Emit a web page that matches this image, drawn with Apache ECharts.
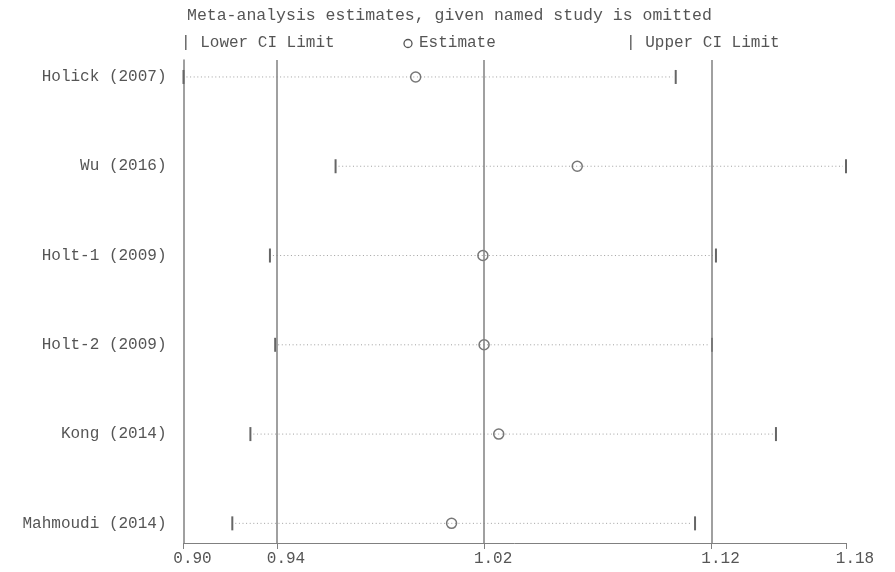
<!DOCTYPE html>
<html><head><meta charset="utf-8">
<script src="https://cdn.jsdelivr.net/npm/echarts@6/dist/echarts.min.js"></script>
<style>html,body{margin:0;padding:0;background:#fff}#c{width:895px;height:572px}</style>
</head><body><div id="c"></div>
<script>
const studies = ['Holick (2007)','Wu (2016)','Holt-1 (2009)','Holt-2 (2009)','Kong (2014)','Mahmoudi (2014)'];
const lowerCI = [0.902, 0.9596, 0.9343, 0.9363, 0.9269, 0.9201];
const estimate = [0.9914, 1.0588, 1.0189, 1.0194, 1.0255, 1.0060];
const upperCI = [1.1021, 1.1812, 1.1203, 1.1185, 1.1480, 1.1108];
const overall = [0.9370, 1.0194, 1.1183]; // lower CI, estimate, upper CI
const tickValues = [0.902, 0.9370, 1.0194, 1.1183, 1.1812];
const tickLabels = ['0.90', '0.94', '1.02', '1.12', '1.18'];
const titleText = 'Meta-analysis estimates, given named study is omitted';
const legendTexts = ['| Lower CI Limit', 'Estimate', '| Upper CI Limit'];

const FONT = '"Liberation Mono", "DejaVu Sans Mono", monospace';
const TXT = '#555';
const LINE = '#808080';
const L = Math.log;
const tickPos = tickValues.map(L);
const rows = studies.map((s, i) => i);
function nearestLabel(v) {
  let best = 0;
  tickPos.forEach((p, i) => { if (Math.abs(p - v) < Math.abs(tickPos[best] - v)) best = i; });
  return tickLabels[best];
}

const chart = echarts.init(document.getElementById('c'), null, {renderer: 'canvas'});
chart.setOption({
  backgroundColor: '#fff',
  animation: false,
  grid: {left: 183.5, right: 49, top: 60, bottom: 29, containLabel: false},
  xAxis: {
    type: 'value', min: L(tickValues[0]), max: L(tickValues[tickValues.length - 1]),
    splitLine: {show: false},
    axisLine: {show: true, onZero: false, lineStyle: {color: LINE, width: 1}},
    axisTick: {show: true, customValues: tickPos, length: 6, lineStyle: {color: LINE, width: 1}},
    axisLabel: {customValues: tickPos, formatter: v => nearestLabel(v), fontFamily: FONT, fontSize: 16,
      color: TXT, margin: 8, padding: [0, 0, 0, 18]}
  },
  yAxis: {
    type: 'value', inverse: true, min: -0.19, max: 5.22,
    splitLine: {show: false},
    axisLine: {show: true, onZero: false, lineStyle: {color: LINE, width: 1.5}},
    axisTick: {show: false},
    axisLabel: {customValues: rows, formatter: v => studies[Math.round(v)], fontFamily: FONT, fontSize: 16,
      color: TXT, margin: 17}
  },
  graphic: [
    {type: 'text', left: 187, top: 7, style: {text: titleText, font: '16.5px ' + FONT, fill: TXT}},
    {type: 'text', left: 181, top: 35, style: {text: legendTexts[0], font: '16px ' + FONT, fill: TXT}},
    {type: 'circle', shape: {cx: 408, cy: 43.5, r: 4}, style: {fill: 'none', stroke: '#555', lineWidth: 1.3}},
    {type: 'text', left: 419, top: 35, style: {text: legendTexts[1], font: '16px ' + FONT, fill: TXT}},
    {type: 'text', left: 626, top: 35, style: {text: legendTexts[2], font: '16px ' + FONT, fill: TXT}}
  ],
  series: [
    {
      type: 'custom',
      silent: true,
      data: studies.map((s, i) => [L(lowerCI[i]), L(upperCI[i]), i]),
      encode: {x: [0, 1], y: 2},
      renderItem: function (params, api) {
        const p1 = api.coord([api.value(0), api.value(2)]);
        const p2 = api.coord([api.value(1), api.value(2)]);
        return {type: 'group', children: [
          {type: 'line', shape: {x1: p1[0] + 3, y1: p1[1], x2: p2[0] - 3, y2: p2[1]},
            style: {stroke: '#a0a0a0', lineWidth: 1, lineDash: [1, 2.6]}},
          {type: 'line', shape: {x1: p1[0], y1: p1[1] - 7, x2: p1[0], y2: p1[1] + 7},
            style: {stroke: '#666', lineWidth: 2}},
          {type: 'line', shape: {x1: p2[0], y1: p2[1] - 7, x2: p2[0], y2: p2[1] + 7},
            style: {stroke: '#666', lineWidth: 2}}
        ]};
      },
      z: 2
    },
    {
      type: 'scatter',
      silent: true,
      data: estimate.map((v, i) => [L(v), i]),
      symbol: 'circle', symbolSize: 10,
      itemStyle: {color: 'rgba(255,255,255,0)', borderColor: '#555', borderWidth: 1.5},
      z: 4,
      markLine: {
        silent: true, symbol: 'none', label: {show: false}, precision: 10,
        lineStyle: {color: LINE, width: 1.5, type: 'solid'},
        data: overall.map(v => ({xAxis: L(v)}))
      }
    }
  ]
});
</script></body></html>
